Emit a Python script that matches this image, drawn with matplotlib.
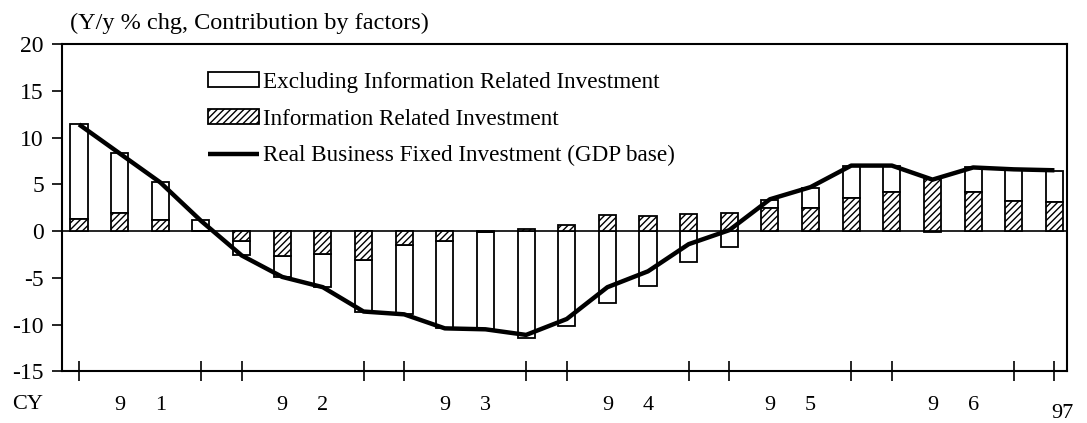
import numpy as np
import matplotlib.pyplot as plt
from matplotlib.transforms import blended_transform_factory

plt.rcParams['font.family'] = ['Liberation Serif', 'DejaVu Serif']
plt.rcParams['axes.unicode_minus'] = False

# quarterly, CY1991 Q1 .. CY1997 Q1
quarters = ['91Q1', '91Q2', '91Q3', '91Q4', '92Q1', '92Q2', '92Q3', '92Q4',
            '93Q1', '93Q2', '93Q3', '93Q4', '94Q1', '94Q2', '94Q3', '94Q4',
            '95Q1', '95Q2', '95Q3', '95Q4', '96Q1', '96Q2', '96Q3', '96Q4',
            '97Q1']
info_inv = [1.3, 1.9, 1.2, 0.0, -1.1, -2.7, -2.5, -3.1, -1.5, -1.1, -0.1, 0.2,
            0.7, 1.7, 1.6, 1.8, 1.9, 2.5, 2.5, 3.5, 4.2, 5.6, 4.2, 3.2, 3.1]
excl_info = [10.2, 6.4, 4.0, 1.2, -1.5, -2.2, -3.5, -5.5, -7.4, -9.3, -10.4, -11.4,
             -10.2, -7.7, -5.9, -3.3, -1.7, 0.8, 2.1, 3.5, 2.8, -0.1, 2.6, 3.3, 3.3]
real_bfi = [11.4, 8.3, 5.2, 1.1, -2.6, -4.9, -6.0, -8.6, -8.9, -10.4, -10.5, -11.1,
            -9.4, -6.0, -4.3, -1.4, 0.1, 3.4, 4.7, 7.0, 7.0, 5.5, 6.8, 6.6, 6.5]
year_digits = [('9', '1'), ('9', '2'), ('9', '3'), ('9', '4'), ('9', '5'), ('9', '6')]

x = np.arange(len(quarters))
info = np.array(info_inv)
excl = np.array(excl_info)
# excluding part sits on top of the info part when both have the same sign
base = np.where(np.sign(excl) == np.sign(info), info, 0.0)

fig = plt.figure(figsize=(10.87, 4.23), dpi=100)
ax = fig.add_axes([0.057, 0.122, 0.925, 0.774])

w = 0.42
b_ex = ax.bar(x, excl, w, bottom=base, color='white', edgecolor='black', linewidth=1.3,
              label='Excluding Information Related Investment', zorder=2)
b_in = ax.bar(x, info, w, color='white', edgecolor='black', hatch='/////', linewidth=1.3,
              label='Information Related Investment', zorder=2)
ln, = ax.plot(x, real_bfi, color='black', linewidth=3.2, solid_capstyle='butt',
              label='Real Business Fixed Investment (GDP base)', zorder=3)
ax.axhline(0, color='black', linewidth=1.2, zorder=1)

ax.set_xlim(-0.42, 24.32)
ax.set_ylim(-15, 20)
ax.set_yticks(range(-15, 21, 5))
ax.tick_params(axis='y', direction='out', length=7, width=1.2, labelsize=17, pad=6)

# tick marks at Q1 and Q4 of each year
ticks = [i for i in x if i % 4 in (0, 3)]
ax.set_xticks(ticks)
ax.set_xticklabels([])
ax.tick_params(axis='x', direction='inout', length=14, width=1.2)

for s in ax.spines.values():
    s.set_linewidth(1.5)

tr = blended_transform_factory(ax.transData, ax.transAxes)
for k, (d1, d2) in enumerate(year_digits):
    ax.text(4 * k + 1, -0.105, d1, transform=tr, ha='center', va='center', fontsize=16)
    ax.text(4 * k + 2, -0.105, d2, transform=tr, ha='center', va='center', fontsize=16)
ax.text(24.2, -0.13, '97', transform=tr, ha='center', va='center', fontsize=16)
fig.text(0.011, 0.043, 'CY', ha='left', va='center', fontsize=16)
fig.text(0.064, 0.945, '(Y/y % chg, Contribution by factors)', ha='left',
         va='center', fontsize=17.5)

leg = ax.legend([b_ex, b_in, ln], [b_ex.get_label(), b_in.get_label(), ln.get_label()],
                loc='upper left', bbox_to_anchor=(0.145, 0.915), frameon=False,
                fontsize=16.7, handlelength=2.2, handleheight=0.6, handletextpad=0.17,
                labelspacing=0.68, borderaxespad=0, borderpad=0)

fig.savefig('out.png', dpi=100)
